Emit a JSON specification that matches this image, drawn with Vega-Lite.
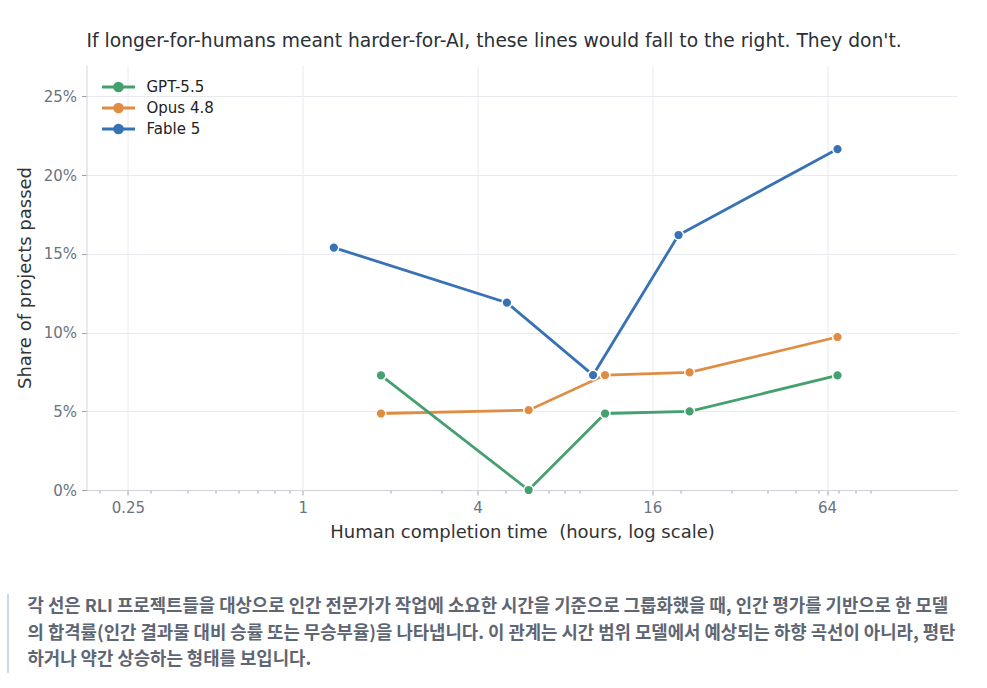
{
  "$schema": "https://vega.github.io/schema/vega-lite/v6.json",
  "background": "white",
  "padding": {"left": 6.5, "top": 32, "right": 10, "bottom": 5},
  "config": {
    "font": "DejaVu Sans",
    "view": {"stroke": null},
    "concat": {"spacing": 51},
    "axis": {
      "labelColor": "#6b7280",
      "labelFontSize": 15,
      "titleColor": "#333333",
      "titleFontSize": 18,
      "titleFontWeight": "normal",
      "tickColor": "#9ca3af",
      "domainColor": "#d1d5db",
      "gridColor": "#e9eaf0"
    }
  },
  "vconcat": [
    {
      "width": 871,
      "height": 425,
      "title": {
        "text": "If longer-for-humans meant harder-for-AI, these lines would fall to the right. They don't.",
        "anchor": "start",
        "frame": "group",
        "fontSize": 18.7,
        "fontWeight": "normal",
        "color": "#2b2f36",
        "offset": 14
      },
      "data": {
        "values": [
          {"model": "Fable 5", "hours": 1.28, "share": 0.154},
          {"model": "Fable 5", "hours": 5.05, "share": 0.119},
          {"model": "Fable 5", "hours": 10.0, "share": 0.073},
          {"model": "Fable 5", "hours": 19.7, "share": 0.162},
          {"model": "Fable 5", "hours": 69.5, "share": 0.2166},
          {"model": "Opus 4.8", "hours": 1.86, "share": 0.0486},
          {"model": "Opus 4.8", "hours": 6.0, "share": 0.0507},
          {"model": "Opus 4.8", "hours": 11.0, "share": 0.073},
          {"model": "Opus 4.8", "hours": 21.5, "share": 0.0747},
          {"model": "Opus 4.8", "hours": 69.5, "share": 0.0972},
          {"model": "GPT-5.5", "hours": 1.86, "share": 0.0728},
          {"model": "GPT-5.5", "hours": 6.0, "share": 0.0},
          {"model": "GPT-5.5", "hours": 11.0, "share": 0.0486},
          {"model": "GPT-5.5", "hours": 21.5, "share": 0.0499},
          {"model": "GPT-5.5", "hours": 69.5, "share": 0.0728}
        ]
      },
      "encoding": {
        "x": {
          "field": "hours",
          "type": "quantitative",
          "scale": {"type": "log", "base": 2, "domain": [0.18, 180], "nice": false},
          "axis": {
            "title": "Human completion time\u00a0 (hours, log scale)",
            "values": [0.2, 0.25, 0.3, 0.4, 0.5, 0.6, 0.7, 0.8, 0.9, 1, 2, 3, 4, 5, 6, 7, 8, 9, 16, 20, 30, 40, 50, 60, 64, 70, 80, 90],
            "format": "~g",
            "labelExpr": "indexof([0.25, 1, 4, 16, 64], datum.value) >= 0 ? datum.label : ''",
            "tickSize": {"condition": {"test": "indexof([0.25, 1, 4, 16, 64], datum.value) >= 0", "value": 5}, "value": 3},
            "gridOpacity": {"condition": {"test": "indexof([0.25, 1, 4, 16, 64], datum.value) >= 0", "value": 1}, "value": 0},
            "labelPadding": 5.5,
            "titlePadding": 8
          }
        },
        "y": {
          "field": "share",
          "type": "quantitative",
          "scale": {"domain": [0, 0.27], "nice": false},
          "axis": {
            "title": "Share of projects passed",
            "values": [0, 0.05, 0.1, 0.15, 0.2, 0.25],
            "format": ".0%",
            "tickSize": 5,
            "labelPadding": 5,
            "titlePadding": 9
          }
        },
        "color": {
          "field": "model",
          "type": "nominal",
          "scale": {"domain": ["GPT-5.5", "Opus 4.8", "Fable 5"], "range": ["#44a06f", "#e08d43", "#3772b5"]},
          "legend": {
            "title": null,
            "orient": "none",
            "legendX": 22,
            "legendY": 12,
            "padding": 0,
            "symbolType": "M-2,0H-0.6M0.6,0H2M0.48,0A0.48,0.48,0,1,1,-0.48,0A0.48,0.48,0,1,1,0.48,0Z",
            "symbolSize": 272,
            "symbolStrokeWidth": 2.8,
            "labelFontSize": 15,
            "labelColor": "#222222",
            "labelOffset": 18,
            "rowPadding": 1
          }
        }
      },
      "layer": [
        {"mark": {"type": "line", "strokeWidth": 2.8}},
        {"mark": {"type": "point", "filled": true, "size": 95, "stroke": "white", "strokeWidth": 1.5, "opacity": 1}}
      ]
    },
    {
      "width": 940,
      "height": 79,
      "data": {
        "values": [
          {"line": 1, "text": "각 선은 RLI 프로젝트들을 대상으로 인간 전문가가 작업에 소요한 시간을 기준으로 그룹화했을 때, 인간 평가를 기반으로 한 모델"},
          {"line": 2, "text": "의 합격률(인간 결과물 대비 승률 또는 무승부율)을 나타냅니다. 이 관계는 시간 범위 모델에서 예상되는 하향 곡선이 아니라, 평탄"},
          {"line": 3, "text": "하거나 약간 상승하는 형태를 보입니다."}
        ]
      },
      "layer": [
        {
          "mark": {"type": "rule", "color": "#cfd9e4", "strokeWidth": 2},
          "encoding": {
            "x": {"datum": 0, "type": "quantitative", "scale": {"domain": [0.0835, 1.0835], "nice": false, "zero": false}, "axis": null}
          }
        },
        {
          "mark": {"type": "text", "align": "left", "baseline": "middle", "dx": 19.5, "font": "Noto Sans CJK KR", "fontSize": 17.8, "fontWeight": "bold", "color": "#5e6673"},
          "encoding": {
            "x": {"datum": 0, "type": "quantitative", "scale": {"domain": [0.0835, 1.0835], "nice": false, "zero": false}, "axis": null},
            "y": {"field": "line", "type": "ordinal", "axis": null},
            "text": {"field": "text"}
          }
        }
      ]
    }
  ]
}
